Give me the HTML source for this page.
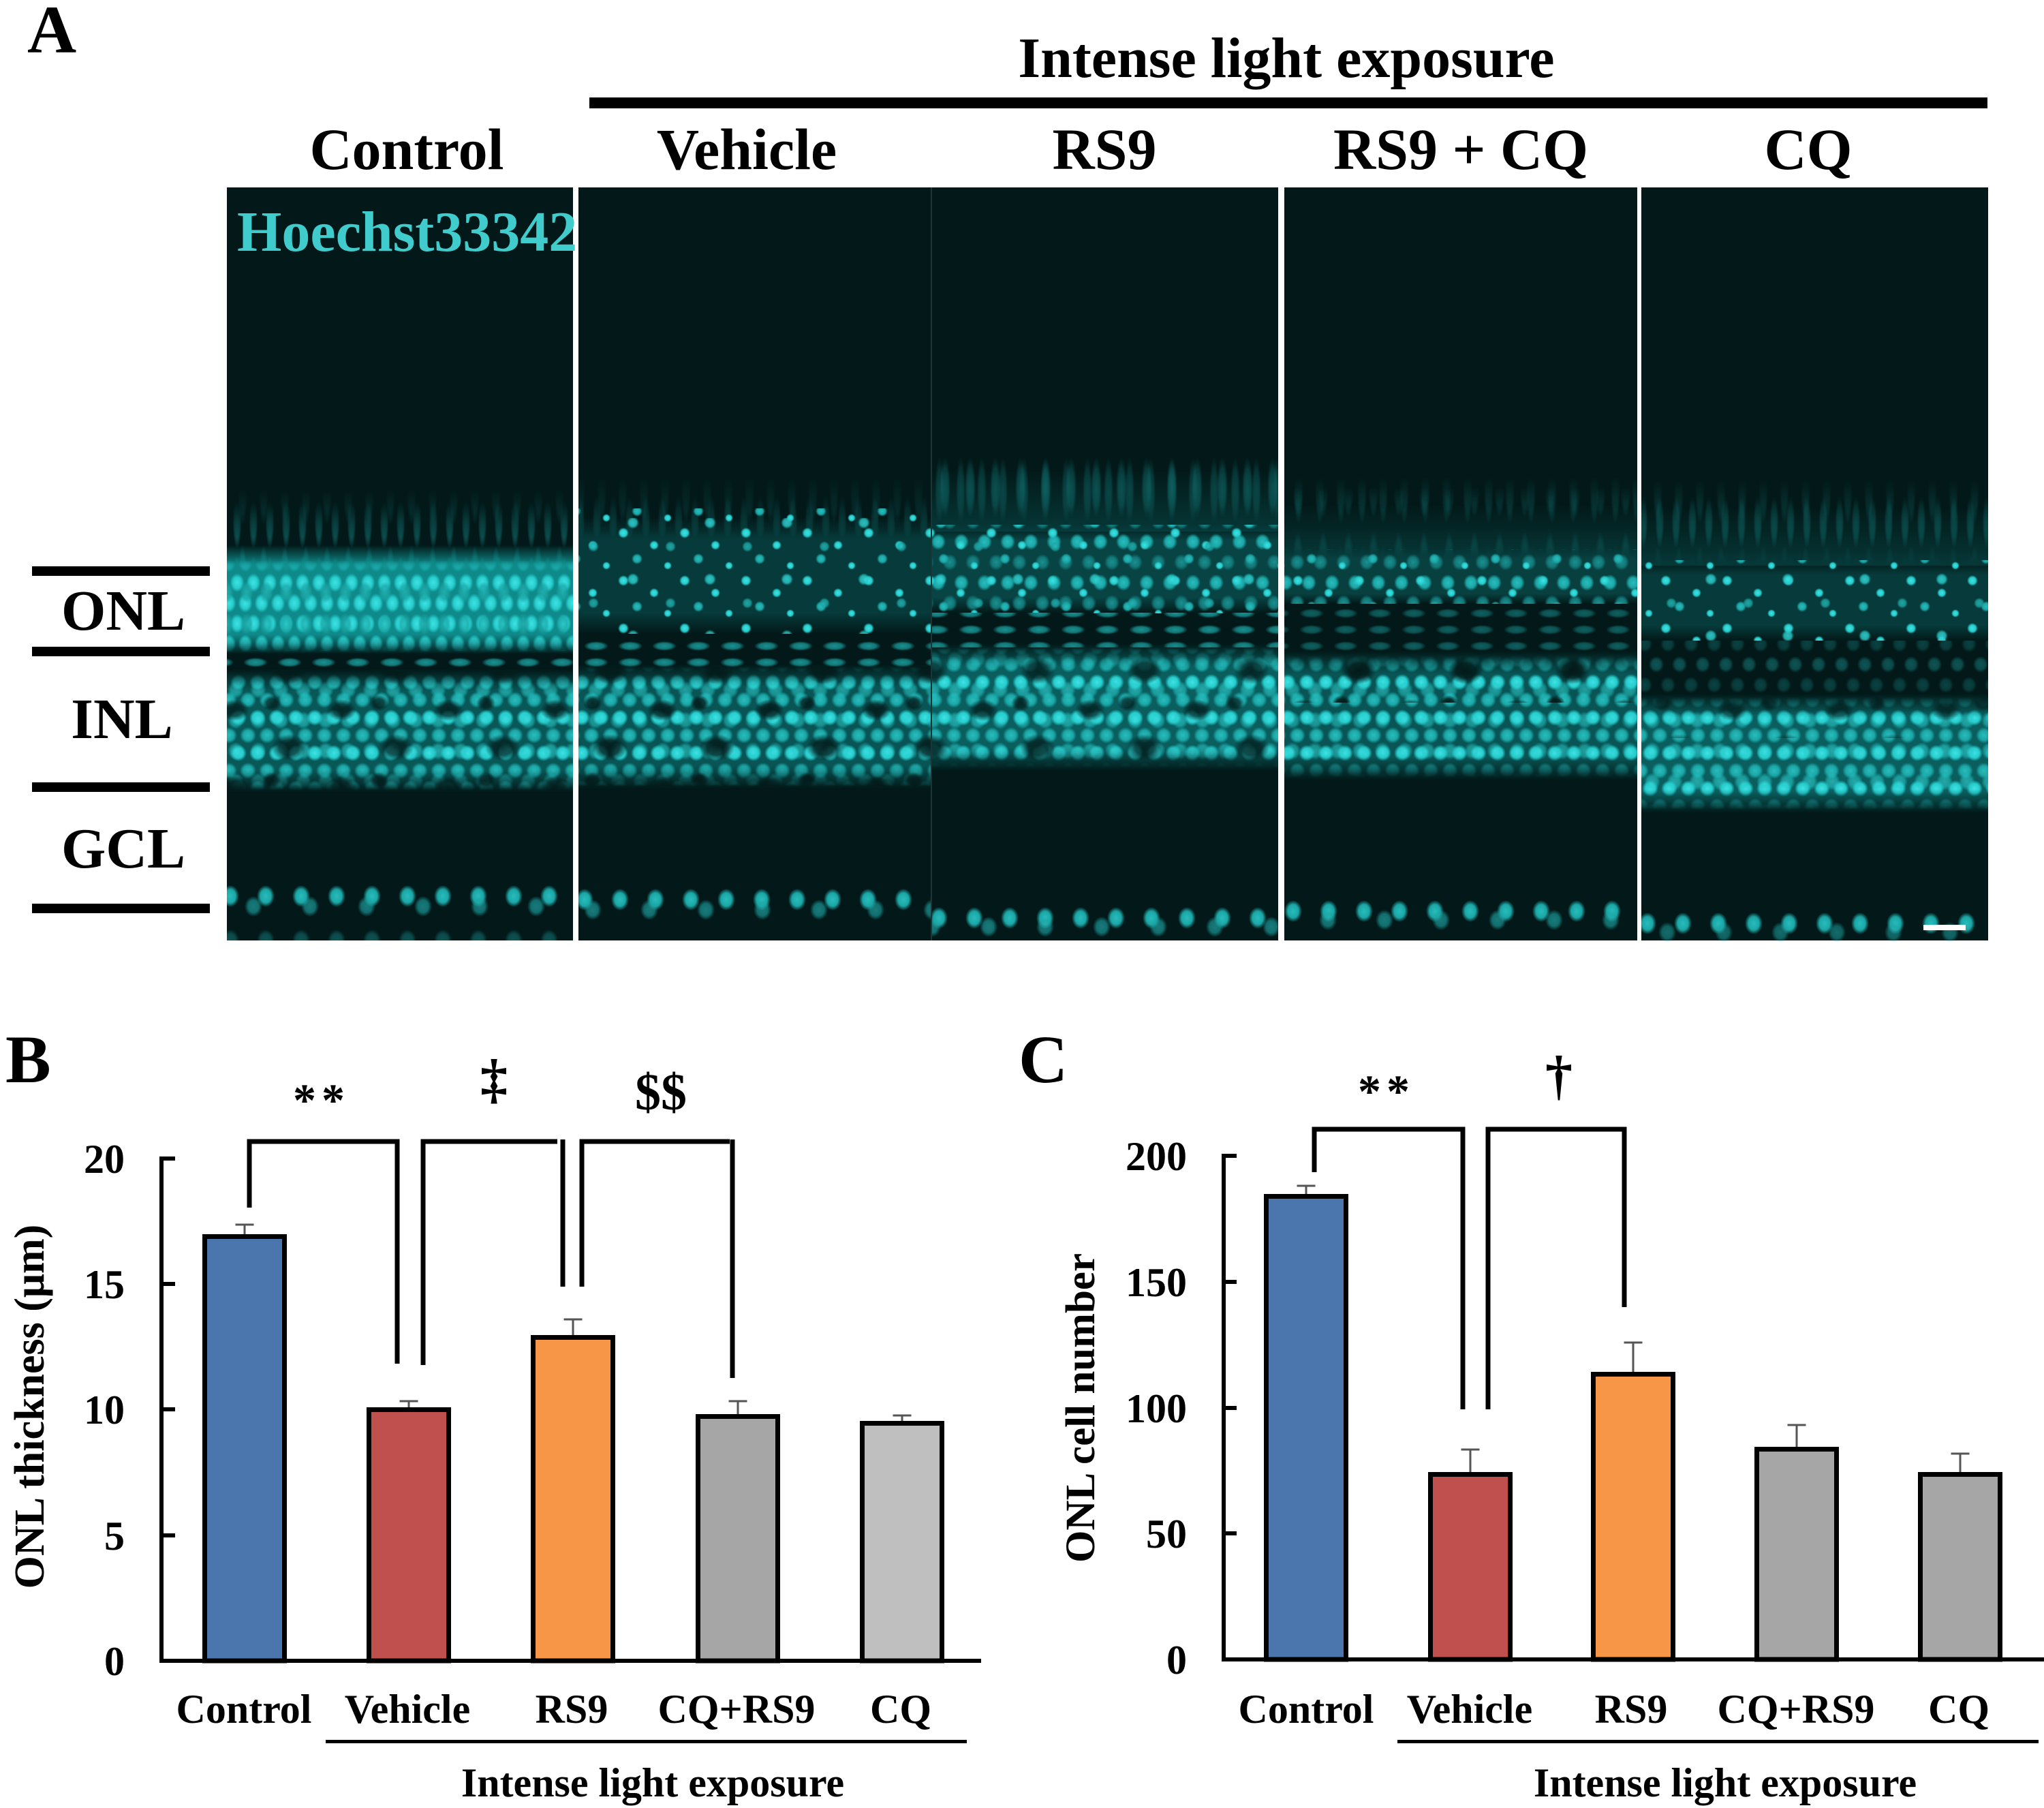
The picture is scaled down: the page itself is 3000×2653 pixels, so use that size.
<!DOCTYPE html>
<html><head><meta charset="utf-8">
<style>
html,body{margin:0;padding:0;background:#fff;}
svg{display:block;}
text{font-family:"Liberation Serif","Times New Roman",serif;font-weight:bold;fill:#000;}
</style></head>
<body>
<svg width="3000" height="2653" viewBox="0 0 3000 2653" xmlns="http://www.w3.org/2000/svg">
<defs>
  <radialGradient id="nb"><stop offset="0" stop-color="#3fe2e2"/><stop offset="0.6" stop-color="#27cccc"/><stop offset="1" stop-color="#27cccc" stop-opacity="0"/></radialGradient>
  <radialGradient id="nm"><stop offset="0" stop-color="#28bcbc"/><stop offset="0.6" stop-color="#1ca6a6"/><stop offset="1" stop-color="#1ca6a6" stop-opacity="0"/></radialGradient>
  <radialGradient id="nd"><stop offset="0" stop-color="#1a8f8f"/><stop offset="0.6" stop-color="#137777"/><stop offset="1" stop-color="#137777" stop-opacity="0"/></radialGradient>
  <radialGradient id="hole"><stop offset="0" stop-color="#031919"/><stop offset="0.55" stop-color="#031919" stop-opacity="0.85"/><stop offset="1" stop-color="#031919" stop-opacity="0"/></radialGradient>

  <pattern id="pONLc" width="24" height="60" patternUnits="userSpaceOnUse">
    <ellipse cx="12" cy="15" rx="10.5" ry="14" fill="url(#nb)"/>
    <ellipse cx="0" cy="45" rx="10.5" ry="14" fill="url(#nb)"/>
    <ellipse cx="24" cy="45" rx="10.5" ry="14" fill="url(#nb)"/>
  </pattern>
  <pattern id="pONLc2" width="29" height="47" patternUnits="userSpaceOnUse">
    <ellipse cx="14" cy="23" rx="10" ry="16" fill="url(#nm)"/>
  </pattern>
  <pattern id="pINL" width="28" height="52" patternUnits="userSpaceOnUse">
    <ellipse cx="14" cy="13" rx="12" ry="12" fill="url(#nb)"/>
    <ellipse cx="0" cy="39" rx="12" ry="12" fill="url(#nm)"/>
    <ellipse cx="28" cy="39" rx="12" ry="12" fill="url(#nm)"/>
  </pattern>
  <pattern id="pINL2" width="33" height="45" patternUnits="userSpaceOnUse">
    <ellipse cx="16" cy="22" rx="12" ry="13" fill="url(#nb)"/>
  </pattern>
  <pattern id="pHoles" width="157" height="113" patternUnits="userSpaceOnUse">
    <ellipse cx="30" cy="25" rx="22" ry="16" fill="url(#hole)"/>
    <ellipse cx="110" cy="80" rx="26" ry="20" fill="url(#hole)"/>
    <ellipse cx="85" cy="15" rx="14" ry="12" fill="url(#hole)"/>
  </pattern>
  <pattern id="pMid" width="34" height="60" patternUnits="userSpaceOnUse">
    <ellipse cx="17" cy="15" rx="11" ry="12" fill="url(#nm)"/>
    <ellipse cx="0" cy="45" rx="11" ry="12" fill="url(#nd)"/>
    <ellipse cx="34" cy="45" rx="11" ry="12" fill="url(#nd)"/>
  </pattern>
  <pattern id="pSparse" width="90" height="70" patternUnits="userSpaceOnUse">
    <circle cx="15" cy="12" r="8" fill="url(#nb)"/>
    <circle cx="60" cy="30" r="7" fill="url(#nb)"/>
    <circle cx="35" cy="50" r="8" fill="url(#nm)"/>
    <circle cx="80" cy="60" r="6" fill="url(#nb)"/>
  </pattern>
  <pattern id="pSparse2" width="113" height="83" patternUnits="userSpaceOnUse">
    <circle cx="25" cy="20" r="9" fill="url(#nb)"/>
    <circle cx="80" cy="55" r="8" fill="url(#nm)"/>
  </pattern>
  <pattern id="pStreak" width="24" height="90" patternUnits="userSpaceOnUse">
    <ellipse cx="12" cy="45" rx="6.5" ry="40" fill="url(#nd)"/>
  </pattern>
  <pattern id="pStreak2" width="37" height="110" patternUnits="userSpaceOnUse">
    <ellipse cx="18" cy="55" rx="8" ry="45" fill="url(#nd)"/>
  </pattern>
  <pattern id="pStreak3" width="31" height="130" patternUnits="userSpaceOnUse">
    <ellipse cx="15" cy="70" rx="7" ry="50" fill="url(#nd)"/>
  </pattern>
  <pattern id="pGap" width="50" height="24" patternUnits="userSpaceOnUse">
    <ellipse cx="25" cy="12" rx="18" ry="7" fill="url(#nd)"/>
  </pattern>
  <pattern id="pGCL" width="52" height="60" patternUnits="userSpaceOnUse">
    <ellipse cx="26" cy="30" rx="13" ry="16" fill="url(#nm)"/>
  </pattern>
  <pattern id="pGCL2" width="83" height="60" patternUnits="userSpaceOnUse">
    <ellipse cx="40" cy="30" rx="13" ry="15" fill="url(#nm)"/>
  </pattern>

  <linearGradient id="fadeDown" x1="0" y1="0" x2="0" y2="1"><stop offset="0" stop-color="#000"/><stop offset="1" stop-color="#fff"/></linearGradient>
  <linearGradient id="softV" x1="0" y1="0" x2="0" y2="1"><stop offset="0" stop-color="#000"/><stop offset="0.18" stop-color="#fff"/><stop offset="0.82" stop-color="#fff"/><stop offset="1" stop-color="#000"/></linearGradient>
  <mask id="mFade" maskContentUnits="objectBoundingBox"><rect width="1" height="1" fill="url(#fadeDown)"/></mask>
  <mask id="mSoft" maskContentUnits="objectBoundingBox"><rect width="1" height="1" fill="url(#softV)"/></mask>
</defs>

<!-- ============ PANEL A ============ -->
<text x="40" y="77" font-size="100">A</text>
<text x="1888" y="113" font-size="84" text-anchor="middle">Intense light exposure</text>
<rect x="865" y="143" width="2052" height="16" fill="#000"/>
<text x="597" y="248" font-size="86" text-anchor="middle">Control</text>
<text x="1096" y="248" font-size="86" text-anchor="middle">Vehicle</text>
<text x="1621" y="248" font-size="86" text-anchor="middle">RS9</text>
<text x="2144" y="248" font-size="86" text-anchor="middle">RS9 + CQ</text>
<text x="2654" y="248" font-size="86" text-anchor="middle">CQ</text>

<!-- left layer labels -->
<rect x="47" y="831" width="261" height="14" fill="#000"/>
<rect x="47" y="949" width="261" height="14" fill="#000"/>
<rect x="47" y="1148" width="261" height="14" fill="#000"/>
<rect x="47" y="1326" width="261" height="14" fill="#000"/>
<text x="181" y="924" font-size="84" text-anchor="middle">ONL</text>
<text x="179" y="1083" font-size="84" text-anchor="middle">INL</text>
<text x="181" y="1273" font-size="84" text-anchor="middle">GCL</text>

<!-- Control panel -->
<rect x="333" y="275" width="508" height="1105" fill="#031919"/>
<rect x="333" y="735" width="508" height="100" fill="url(#pStreak)" mask="url(#mFade)"/>
<rect x="333" y="720" width="508" height="115" fill="url(#pStreak3)" mask="url(#mFade)" opacity="0.7"/>
<rect x="333" y="800" width="508" height="160" fill="#0f8a8a" mask="url(#mSoft)"/>
<rect x="333" y="822" width="508" height="136" fill="url(#pONLc)" mask="url(#mSoft)"/>
<rect x="333" y="822" width="508" height="136" fill="url(#pONLc2)" mask="url(#mSoft)" opacity="0.7"/>
<rect x="333" y="954" width="508" height="34" fill="url(#pGap)"/>
<rect x="333" y="982" width="508" height="180" fill="#095858" mask="url(#mSoft)"/>
<rect x="333" y="985" width="508" height="175" fill="url(#pINL)" mask="url(#mSoft)"/>
<rect x="333" y="985" width="508" height="175" fill="url(#pINL2)" mask="url(#mSoft)" opacity="0.55"/>
<rect x="333" y="985" width="508" height="175" fill="url(#pHoles)" opacity="0.8"/>
<rect x="333" y="0" width="508" height="60" fill="url(#pGCL)" transform="translate(0,1285)"/>
<rect x="333" y="0" width="508" height="60" fill="url(#pGCL2)" transform="translate(0,1300)" opacity="0.6"/>
<rect x="333" y="0" width="508" height="30" fill="url(#pGCL)" transform="translate(0,1350)" opacity="0.35"/>

<!-- Vehicle panel -->
<rect x="849" y="275" width="517" height="1105" fill="#031919"/>
<rect x="849" y="715" width="517" height="190" fill="url(#pStreak)" mask="url(#mFade)"/>
<rect x="849" y="700" width="517" height="200" fill="url(#pStreak3)" mask="url(#mFade)" opacity="0.7"/>
<rect x="849" y="760" width="517" height="170" fill="#073a3a" mask="url(#mSoft)"/>
<rect x="849" y="746" width="517" height="186" fill="url(#pSparse)"/>
<rect x="849" y="760" width="517" height="170" fill="url(#pSparse2)" opacity="0.8"/>
<rect x="849" y="937" width="517" height="44" fill="url(#pGap)"/>
<rect x="849" y="975" width="517" height="182" fill="#095555" mask="url(#mSoft)"/>
<rect x="849" y="978" width="517" height="176" fill="url(#pINL)" mask="url(#mSoft)"/>
<rect x="849" y="978" width="517" height="176" fill="url(#pINL2)" mask="url(#mSoft)" opacity="0.5"/>
<rect x="849" y="978" width="517" height="176" fill="url(#pHoles)" opacity="0.9"/>
<rect x="849" y="0" width="517" height="60" fill="url(#pGCL)" transform="translate(0,1290)"/>
<rect x="849" y="0" width="517" height="60" fill="url(#pGCL2)" transform="translate(0,1305)" opacity="0.6"/>
<rect x="1366" y="275" width="2" height="1105" fill="#1d3535"/>

<!-- RS9 panel -->
<rect x="1368" y="275" width="508" height="1105" fill="#031919"/>
<rect x="1368" y="640" width="508" height="140" fill="url(#pStreak2)" mask="url(#mFade)"/>
<rect x="1368" y="630" width="508" height="150" fill="url(#pStreak3)" mask="url(#mFade)" opacity="0.7"/>
<rect x="1368" y="690" width="508" height="90" fill="#073838" mask="url(#mFade)"/>
<rect x="1368" y="770" width="508" height="130" fill="#084444" mask="url(#mSoft)"/>
<rect x="1368" y="770" width="508" height="130" fill="url(#pMid)"/>
<rect x="1368" y="770" width="508" height="130" fill="url(#pSparse)"/>
<rect x="1368" y="770" width="508" height="130" fill="url(#pSparse2)" opacity="0.8"/>
<rect x="1368" y="899" width="508" height="51" fill="url(#pGap)"/>
<rect x="1368" y="945" width="508" height="186" fill="#0a5e5e" mask="url(#mSoft)"/>
<rect x="1368" y="950" width="508" height="176" fill="url(#pINL)" mask="url(#mSoft)"/>
<rect x="1368" y="950" width="508" height="176" fill="url(#pINL2)" mask="url(#mSoft)" opacity="0.55"/>
<rect x="1368" y="950" width="508" height="176" fill="url(#pHoles)" opacity="0.8" transform="translate(0,0)"/>
<rect x="1368" y="0" width="508" height="60" fill="url(#pGCL)" transform="translate(0,1317)"/>
<rect x="1368" y="0" width="508" height="60" fill="url(#pGCL2)" transform="translate(0,1330)" opacity="0.6"/>

<!-- RS9+CQ panel -->
<rect x="1885" y="275" width="518" height="1105" fill="#031919"/>
<rect x="1885" y="715" width="518" height="110" fill="url(#pStreak2)" mask="url(#mFade)"/>
<rect x="1885" y="700" width="518" height="125" fill="url(#pStreak3)" mask="url(#mFade)" opacity="0.7"/>
<rect x="1885" y="740" width="518" height="80" fill="#073838" mask="url(#mFade)"/>
<rect x="1885" y="806" width="518" height="80" fill="#083f3f" mask="url(#mSoft)"/>
<rect x="1885" y="806" width="518" height="80" fill="url(#pMid)"/>
<rect x="1885" y="806" width="518" height="80" fill="url(#pSparse)"/>
<rect x="1885" y="883" width="518" height="78" fill="url(#pGap)" opacity="0.6"/>
<rect x="1885" y="955" width="518" height="190" fill="#095555" mask="url(#mSoft)"/>
<rect x="1885" y="961" width="518" height="180" fill="url(#pINL)" mask="url(#mSoft)"/>
<rect x="1885" y="961" width="518" height="180" fill="url(#pINL2)" mask="url(#mSoft)" opacity="0.5"/>
<rect x="1885" y="961" width="518" height="70" fill="url(#pHoles)"/>
<rect x="1885" y="0" width="518" height="60" fill="url(#pGCL)" transform="translate(0,1307)"/>
<rect x="1885" y="0" width="518" height="60" fill="url(#pGCL2)" transform="translate(0,1320)" opacity="0.6"/>

<!-- CQ panel -->
<rect x="2409" y="275" width="509" height="1105" fill="#031919"/>
<rect x="2409" y="720" width="509" height="110" fill="url(#pStreak)" mask="url(#mFade)"/>
<rect x="2409" y="705" width="509" height="125" fill="url(#pStreak3)" mask="url(#mFade)" opacity="0.7"/>
<rect x="2409" y="745" width="509" height="85" fill="#073838" mask="url(#mFade)"/>
<rect x="2409" y="822" width="509" height="118" fill="#073a3a" mask="url(#mSoft)"/>
<rect x="2409" y="822" width="509" height="118" fill="url(#pSparse)"/>
<rect x="2409" y="822" width="509" height="118" fill="url(#pSparse2)" opacity="0.8"/>
<rect x="2409" y="940" width="509" height="83" fill="url(#pMid)" opacity="0.35"/>
<rect x="2409" y="1018" width="509" height="175" fill="#0a5e5e" mask="url(#mSoft)"/>
<rect x="2409" y="1023" width="509" height="165" fill="url(#pINL)" mask="url(#mSoft)"/>
<rect x="2409" y="1023" width="509" height="165" fill="url(#pINL2)" mask="url(#mSoft)" opacity="0.55"/>
<rect x="2409" y="1023" width="509" height="60" fill="url(#pHoles)" opacity="0.7"/>
<rect x="2409" y="0" width="509" height="60" fill="url(#pGCL)" transform="translate(0,1325)"/>
<rect x="2409" y="0" width="509" height="60" fill="url(#pGCL2)" transform="translate(0,1338)" opacity="0.5"/>

<!-- scale bar -->
<rect x="2823" y="1357" width="62" height="8" fill="#fff"/>

<text x="348" y="368" font-size="84" style="fill:#40cccc">Hoechst33342</text>

<!-- ============ PANEL B ============ -->
<text x="8" y="1588" font-size="100">B</text>

<g stroke="#000" stroke-width="7">
  <rect x="300.5" y="1814.5" width="117" height="622.5" fill="#4a76ad"/>
  <rect x="541.5" y="2068.5" width="117" height="368.5" fill="#c0504d"/>
  <rect x="782.5" y="1962.5" width="117" height="474.5" fill="#f79646"/>
  <rect x="1024.5" y="2078.5" width="117" height="358.5" fill="#a6a6a6"/>
  <rect x="1265.5" y="2088.5" width="117" height="348.5" fill="#bfbfbf"/>
</g>
<g stroke="#555" stroke-width="3">
  <line x1="359" y1="1811" x2="359" y2="1797"/><line x1="345.5" y1="1797" x2="372.5" y2="1797"/>
  <line x1="600" y1="2065" x2="600" y2="2056"/><line x1="586.5" y1="2056" x2="613.5" y2="2056"/>
  <line x1="841" y1="1959" x2="841" y2="1936"/><line x1="827.5" y1="1936" x2="854.5" y2="1936"/>
  <line x1="1083" y1="2075" x2="1083" y2="2056"/><line x1="1069.5" y1="2056" x2="1096.5" y2="2056"/>
  <line x1="1324" y1="2085" x2="1324" y2="2077"/><line x1="1310.5" y1="2077" x2="1337.5" y2="2077"/>
</g>
<g stroke="#000" stroke-width="6" fill="none">
  <line x1="237" y1="1697" x2="237" y2="2440"/>
  <line x1="234" y1="2437" x2="1440" y2="2437"/>
  <line x1="237" y1="1700" x2="257" y2="1700"/>
  <line x1="237" y1="1884" x2="257" y2="1884"/>
  <line x1="237" y1="2068" x2="257" y2="2068"/>
  <line x1="237" y1="2253" x2="257" y2="2253"/>
</g>
<g font-size="60" text-anchor="end">
  <text x="183" y="1721">20</text>
  <text x="183" y="1905">15</text>
  <text x="183" y="2089">10</text>
  <text x="183" y="2274">5</text>
  <text x="183" y="2458">0</text>
</g>
<text transform="translate(64,2064) rotate(-90)" font-size="62" text-anchor="middle">ONL thickness (μm)</text>
<g stroke="#000" stroke-width="7" fill="none">
  <path d="M366 1772 V1675 H583 V2001"/>
  <path d="M621 2003 V1675 H818"/>
  <path d="M826 1672 V1888"/>
  <path d="M854 1888 V1675 H1071"/>
  <path d="M1075 1672 V2022"/>
</g>
<text x="472" y="1637" font-size="68" text-anchor="middle" letter-spacing="8">**</text>
<text x="725" y="1610" font-size="80" text-anchor="middle">‡</text>
<text x="970" y="1628" font-size="76" text-anchor="middle">$$</text>
<g font-size="60" text-anchor="middle">
  <text x="358" y="2528">Control</text>
  <text x="598" y="2528">Vehicle</text>
  <text x="839" y="2528">RS9</text>
  <text x="1081" y="2528">CQ+RS9</text>
  <text x="1322" y="2528">CQ</text>
  <text x="958" y="2636">Intense light exposure</text>
</g>
<rect x="478" y="2553" width="941" height="5" fill="#000"/>

<!-- ============ PANEL C ============ -->
<text x="1495" y="1588" font-size="100">C</text>
<g stroke="#000" stroke-width="7">
  <rect x="1858.5" y="1755.5" width="117" height="679.5" fill="#4a76ad"/>
  <rect x="2099.5" y="2163.5" width="117" height="271.5" fill="#c0504d"/>
  <rect x="2338.5" y="2016.5" width="117" height="418.5" fill="#f79646"/>
  <rect x="2578.5" y="2126.5" width="117" height="308.5" fill="#a6a6a6"/>
  <rect x="2818.5" y="2163.5" width="117" height="271.5" fill="#a6a6a6"/>
</g>
<g stroke="#555" stroke-width="3">
  <line x1="1917" y1="1752" x2="1917" y2="1740"/><line x1="1903.5" y1="1740" x2="1930.5" y2="1740"/>
  <line x1="2158" y1="2160" x2="2158" y2="2127"/><line x1="2144.5" y1="2127" x2="2171.5" y2="2127"/>
  <line x1="2397" y1="2013" x2="2397" y2="1970"/><line x1="2383.5" y1="1970" x2="2410.5" y2="1970"/>
  <line x1="2637" y1="2123" x2="2637" y2="2091"/><line x1="2623.5" y1="2091" x2="2650.5" y2="2091"/>
  <line x1="2877" y1="2160" x2="2877" y2="2133"/><line x1="2863.5" y1="2133" x2="2890.5" y2="2133"/>
</g>
<g stroke="#000" stroke-width="6" fill="none">
  <line x1="1796" y1="1693" x2="1796" y2="2438"/>
  <line x1="1793" y1="2435" x2="3000" y2="2435"/>
  <line x1="1796" y1="1696" x2="1815" y2="1696"/>
  <line x1="1796" y1="1881" x2="1815" y2="1881"/>
  <line x1="1796" y1="2066" x2="1815" y2="2066"/>
  <line x1="1796" y1="2250" x2="1815" y2="2250"/>
</g>
<g font-size="60" text-anchor="end">
  <text x="1742" y="1717">200</text>
  <text x="1742" y="1902">150</text>
  <text x="1742" y="2087">100</text>
  <text x="1742" y="2271">50</text>
  <text x="1742" y="2456">0</text>
</g>
<text transform="translate(1606,2066) rotate(-90)" font-size="61" text-anchor="middle">ONL cell number</text>
<g stroke="#000" stroke-width="7" fill="none">
  <path d="M1929 1720 V1657 H2147 V2068"/>
  <path d="M2184 2068 V1657 H2384 V1918"/>
</g>
<text x="2035" y="1624" font-size="68" text-anchor="middle" letter-spacing="8">**</text>
<text x="2288" y="1605" font-size="80" text-anchor="middle">†</text>
<g font-size="60" text-anchor="middle">
  <text x="1917" y="2528">Control</text>
  <text x="2157" y="2528">Vehicle</text>
  <text x="2394" y="2528">RS9</text>
  <text x="2636" y="2528">CQ+RS9</text>
  <text x="2875" y="2528">CQ</text>
  <text x="2532" y="2636">Intense light exposure</text>
</g>
<rect x="2051" y="2553" width="941" height="5" fill="#000"/>
</svg>
</body></html>
